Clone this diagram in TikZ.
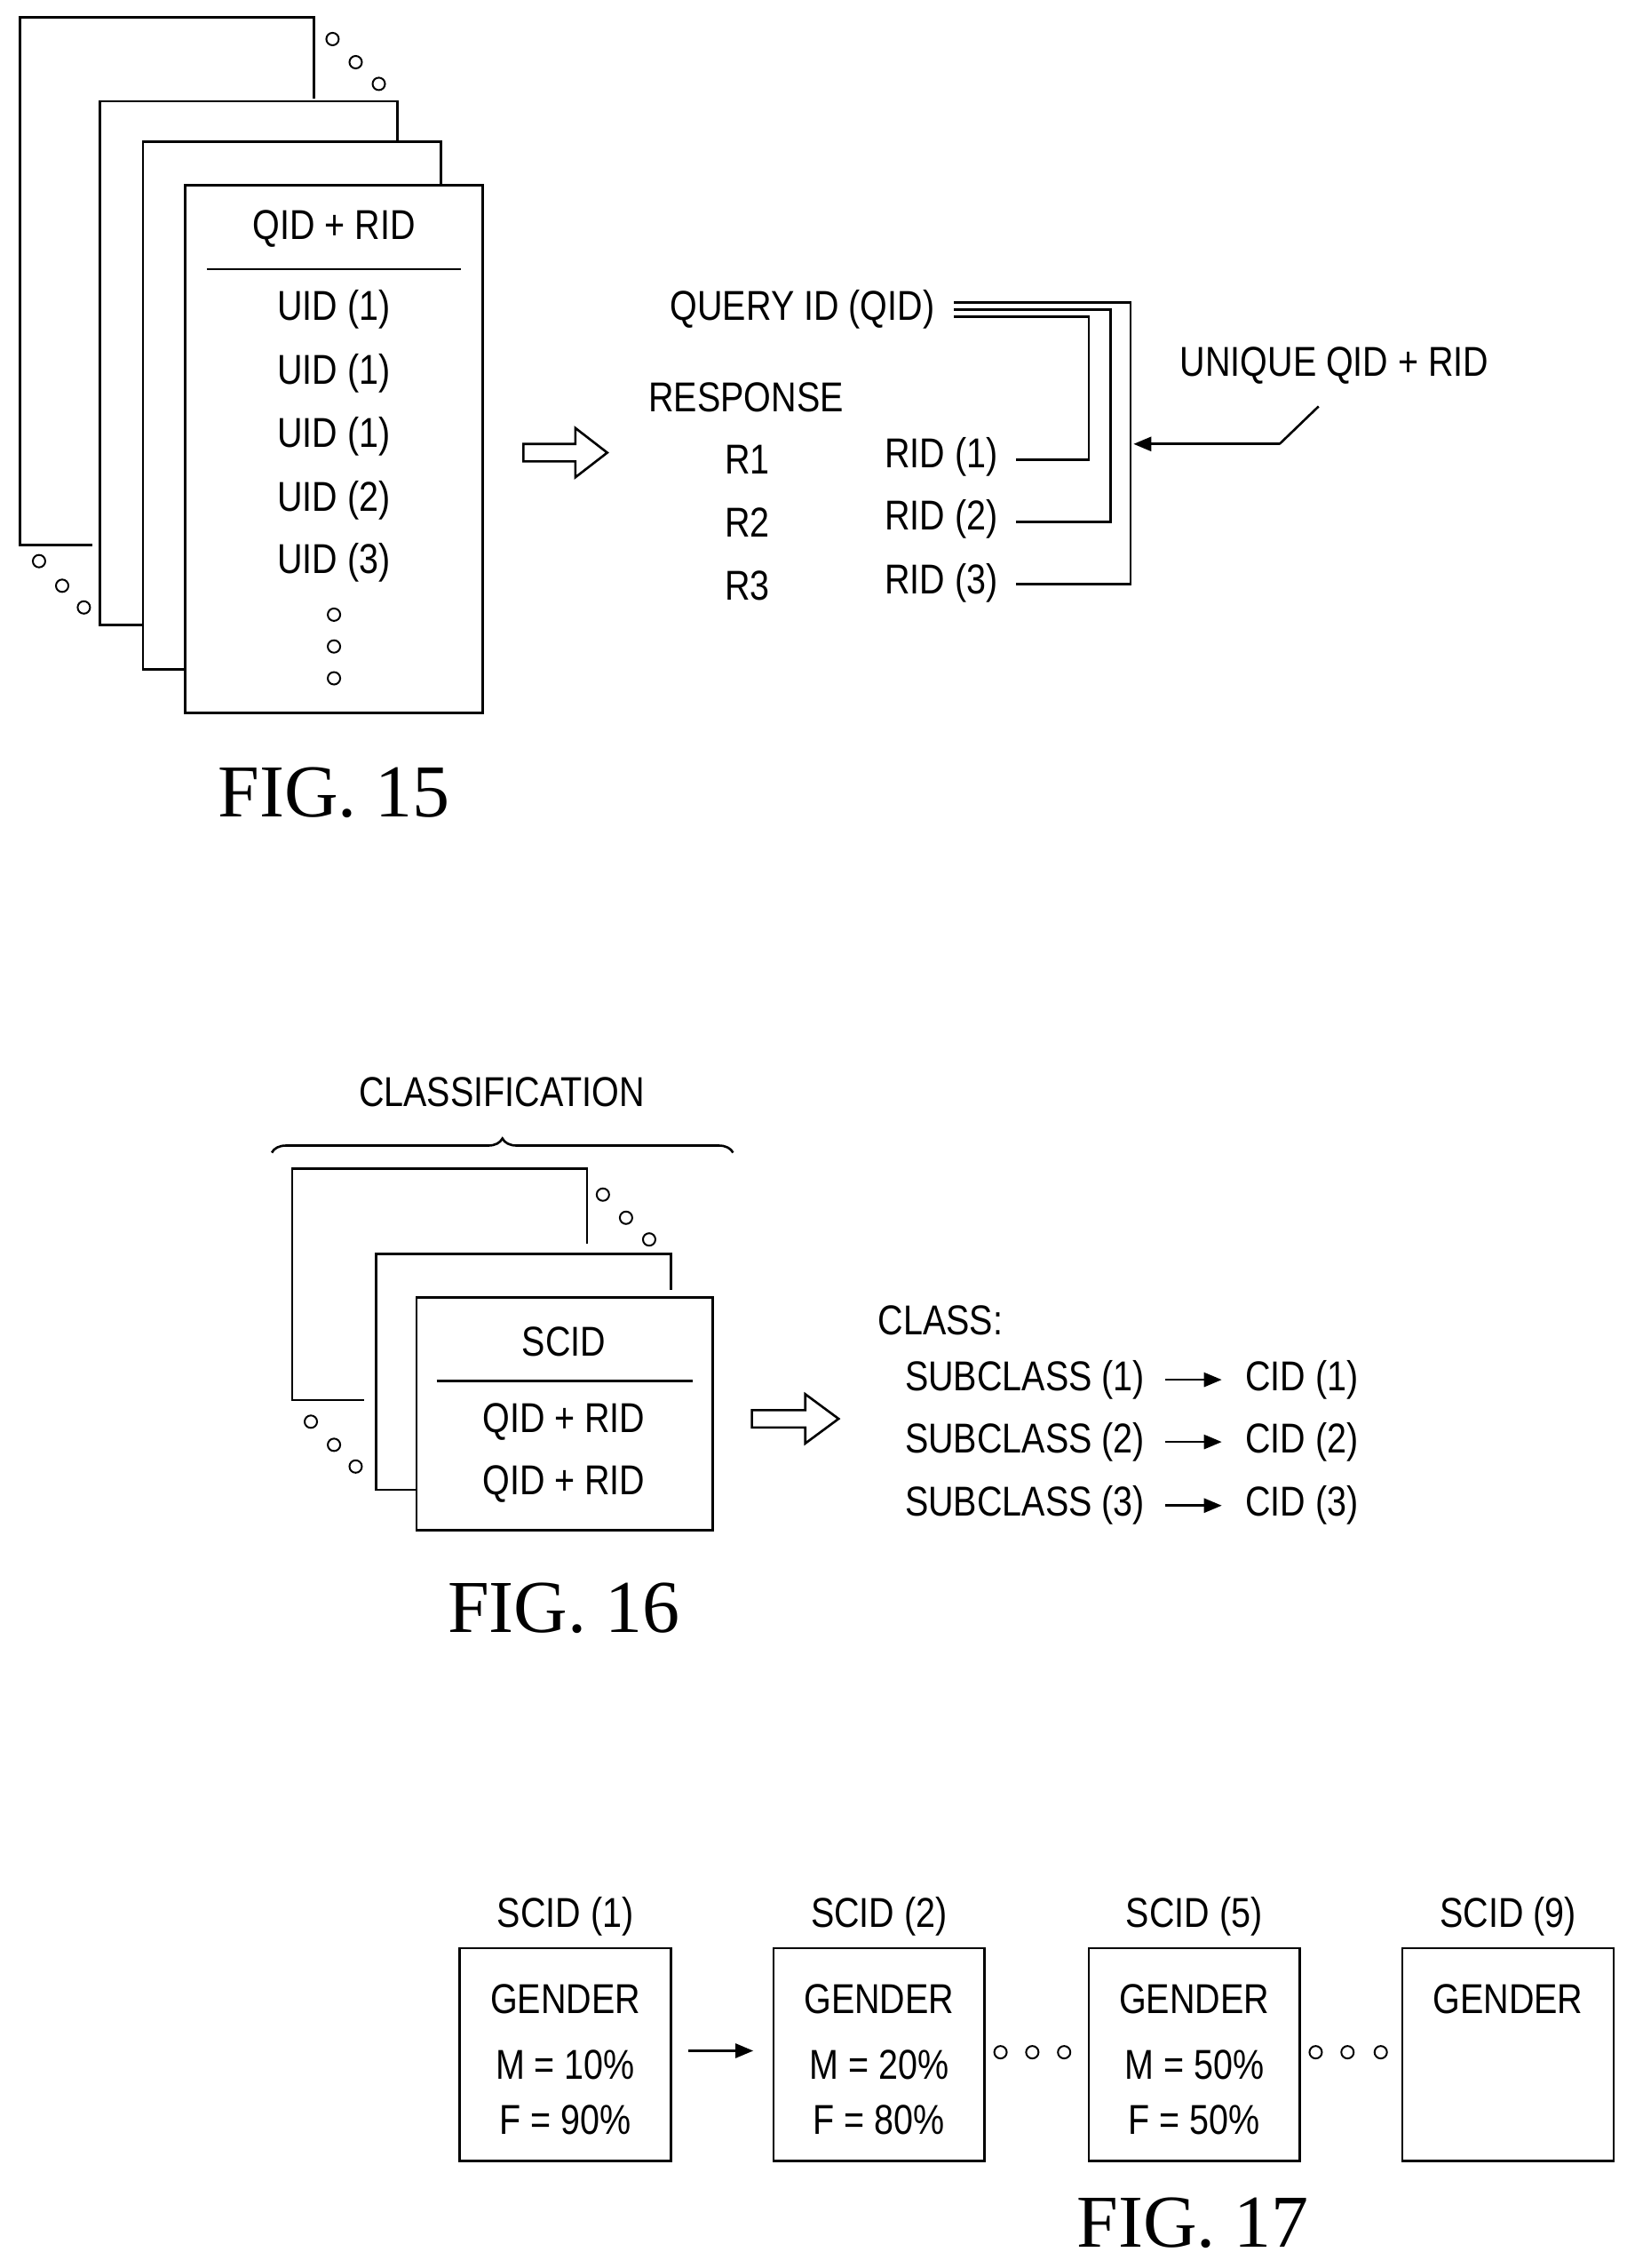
\documentclass[tikz,border=0pt]{standalone}
\usepackage{fontspec}
\setmainfont{Liberation Sans}[FakeStretch=0.84]
\newfontfamily\figfont{Liberation Serif}
\usetikzlibrary{decorations.pathreplacing,arrows.meta}
\begin{document}
\begin{tikzpicture}[x=0.814pt,y=-0.814pt,
  every node/.style={inner sep=0pt,font=\fontsize{23.5}{25}\selectfont},
  ln/.style={line width=1.3pt},
  dot/.style={circle,draw,line width=1pt,minimum size=7pt,inner sep=0pt},
  fig/.style={font=\figfont\fontsize{42}{44}\selectfont},
  hollow/.style={ln,fill=white},
  tip/.style={-{Triangle[length=10pt,width=8pt]}}]
\useasboundingbox (0,0) rectangle (1130.8,1568.2);
% ---------- FIG 15 ----------
\draw[ln] (217,68) -- (217,12) -- (14,12) -- (14,377) -- (64,377);
\draw[ln] (275,97) -- (275,70) -- (69,70) -- (69,432) -- (98,432);
\draw[ln] (305,128) -- (305,98) -- (99,98) -- (99,463) -- (128,463);
\draw[ln,fill=white] (128,128) rectangle (334,493);
\node (h15) at (231,158) {QID + RID};
\draw[ln] (143,186) -- (319,186);
\node (u1) at (231,214) {UID (1)};
\node (u2) at (231,258) {UID (1)};
\node (u3) at (231,302) {UID (1)};
\node (u4) at (231,346) {UID (2)};
\node (u5) at (231,389) {UID (3)};
\foreach \y in {425,447,469} \node[dot] at (231,\y) {};
\foreach \x/\y in {230/27,246/43,262/58,27/388,43/405,58/420} \node[dot] at (\x,\y) {};
\draw[hollow] (362,307) -- (398,307) -- (398,296) -- (420,313) -- (398,330) -- (398,319) -- (362,319) -- cycle;
\node (qid) at (555,214) {QUERY ID (QID)};
\node (resp) at (516,275) {RESPONSE};
\node (r1) at (517,318) {R1};
\node (r2) at (517,361) {R2};
\node (r3) at (517,405) {R3};
\node (rid1) at (651,316) {RID (1)};
\node (rid2) at (651,359) {RID (2)};
\node (rid3) at (651,403) {RID (3)};
\draw[ln] (660,209) -- (782,209) |- (703,404);
\draw[ln] (660,214) -- (768,214) |- (703,361);
\draw[ln] (660,219) -- (753,219) |- (703,318);
\node (uq) at (923,253) {UNIQUE QID + RID};
\coordinate (lead) at (912,281);
\draw[ln] (lead) -- (885,307);
\draw[ln,tip] (885,307) -- (784,307);
\node[fig] (f15) at (231,548) {FIG. 15};
% ---------- FIG 16 ----------
\node (cls) at (347,755) {CLASSIFICATION};
\draw[ln,decorate,decoration={brace,amplitude=8pt}] (188,797) -- (507,797);
\draw[ln] (406,860) -- (406,808) -- (202,808) -- (202,968) -- (252,968);
\draw[ln] (464,892) -- (464,867) -- (260,867) -- (260,1030) -- (288,1030);
\draw[ln,fill=white] (288,897) rectangle (493,1058);
\node (scid) at (390,928) {SCID};
\draw[ln] (302,955) -- (479,955);
\node (qr1) at (390,983) {QID + RID};
\node (qr2) at (390,1026) {QID + RID};
\foreach \x/\y in {417/826,433/842,449/857,215/983,231/999,246/1014} \node[dot] at (\x,\y) {};
\draw[hollow] (520,975) -- (557,975) -- (557,964) -- (580,981) -- (557,998) -- (557,987) -- (520,987) -- cycle;
\node[anchor=west] (class) at (607,913) {CLASS:};
\foreach \i/\y in {1/954,2/997,3/1041} {
  \node[anchor=east] (sc\i) at (792,\y) {SUBCLASS (\i)};
  \node[anchor=west] (cid\i) at (861,\y) {CID (\i)};
  \draw[ln,tip] (sc\i.east) ++(14,0) -- ([xshift=-13]cid\i.west);
}
\node[fig] (f16) at (390,1112) {FIG. 16};
% ---------- FIG 17 ----------
\foreach \n/\x/\s in {a/391/1,b/608/2,c/826/5,d/1043/9} {
  \draw[ln] (\x-73,1347) rectangle (\x+73,1494);
  \node (s\n) at (\x,1325) {SCID (\s)};
  \node (g\n) at (\x,1382) {GENDER};
}
\node (ma) at (391,1428) {M = 10\%};
\node (fa) at (391,1466) {F = 90\%};
\node (mb) at (608,1428) {M = 20\%};
\node (fb) at (608,1466) {F = 80\%};
\node (mc) at (826,1428) {M = 50\%};
\node (fc) at (826,1466) {F = 50\%};
\coordinate (b1e) at (476,1418);
\coordinate (b2w) at (521,1418);
\draw[ln,tip] (b1e) -- (b2w);
\foreach \x in {692,714,736,910,932,955} \node[dot] at (\x,1419) {};
\node[fig] (f17) at (825,1537) {FIG. 17};
\end{tikzpicture}
\end{document}
